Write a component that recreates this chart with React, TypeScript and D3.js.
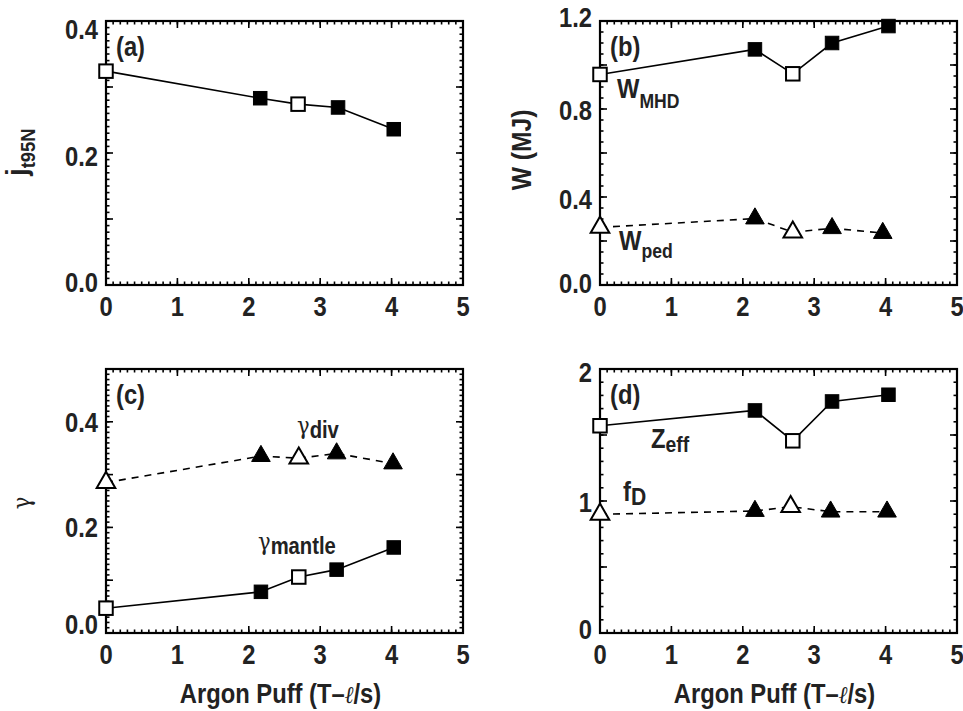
import React from "react";
import * as d3 from "d3";

// ---------- data ----------
const xTickLabels = [0, 1, 2, 3, 4, 5];
const isOpen = [true, false, true, false, false];

const jt95NX = [0, 2.16, 2.69, 3.25, 4.03];
const jt95N = [0.324, 0.283, 0.274, 0.269, 0.236];

const wmhdX = [0, 2.17, 2.7, 3.25, 4.04];
const wmhd = [0.957, 1.071, 0.96, 1.1, 1.177];
const wpedX = [0, 2.17, 2.7, 3.25, 3.96];
const wped = [0.262, 0.302, 0.24, 0.258, 0.236];

const gdivX = [0, 2.17, 2.7, 3.23, 4.02];
const gdiv = [0.285, 0.335, 0.331, 0.34, 0.321];
const gmantleX = [0, 2.17, 2.7, 3.23, 4.03];
const gmantle = [0.047, 0.078, 0.106, 0.12, 0.162];

const zeffX = [0, 2.17, 2.7, 3.25, 4.04];
const zeff = [1.57, 1.686, 1.456, 1.754, 1.805];
const fdX = [0, 2.17, 2.67, 3.23, 4.02];
const fd = [0.899, 0.924, 0.957, 0.919, 0.919];

const yLabelsA = [0, 0.2, 0.4];
const yLabelsB = [0, 0.4, 0.8, 1.2];
const yLabelsC = [0, 0.2, 0.4];
const yLabelsD = [0, 1, 2];

const FONT = "'Liberation Sans', Arial, Helvetica, sans-serif";
const GREEK = "'DejaVu Serif', serif";
const SX = 0.88;

type CTextProps = {
  x: number;
  y: number;
  size: number;
  anchor?: "start" | "middle" | "end";
  rotate?: number;
  family?: string;
  weight?: string;
  children: React.ReactNode;
};

function CText({ x, y, size, anchor = "start", rotate = 0, family = FONT, weight = "bold", children }: CTextProps) {
  return (
    <text
      transform={`translate(${x},${y}) rotate(${rotate}) scale(${SX},1)`}
      textAnchor={anchor}
      fontFamily={family}
      fontWeight={weight}
      fontSize={size}
      fill="#222"
    >
      {children}
    </text>
  );
}

type Series = { xs: number[]; ys: number[]; marker: "square" | "triangle"; dashed: boolean };

type PanelProps = {
  left: number;
  top: number;
  width: number;
  height: number;
  yMax: number;
  yMajor: number;
  yMinor: number;
  yLabels: number[];
  yNudge: number[];
  yFmt: (v: number) => string;
  series: Series[];
  tag: string;
  showXTitle: boolean;
  children?: React.ReactNode;
};

function ticksBetween(max: number, step: number): number[] {
  const n = Math.round(max / step);
  return d3.range(n + 1).map((i) => i * step);
}

function Panel(p: PanelProps) {
  const x = d3.scaleLinear().domain([0, 5]).range([p.left, p.left + p.width]);
  const y = d3.scaleLinear().domain([0, p.yMax]).range([p.top + p.height, p.top]);
  const bottom = p.top + p.height;
  const right = p.left + p.width;
  const MAJ = 7;
  const MIN = 3.5;

  const xMajor = ticksBetween(5, 1);
  const xMinor = ticksBetween(5, 0.1);
  const yMajorT = ticksBetween(p.yMax, p.yMajor);
  const yMinorT = ticksBetween(p.yMax, p.yMinor);

  const tickEls: React.ReactNode[] = [];
  xMinor.forEach((v, i) => {
    const px = x(v);
    tickEls.push(<line key={"xm" + i} x1={px} x2={px} y1={bottom} y2={bottom - MIN} />);
    tickEls.push(<line key={"xmt" + i} x1={px} x2={px} y1={p.top} y2={p.top + MIN} />);
  });
  xMajor.forEach((v, i) => {
    const px = x(v);
    tickEls.push(<line key={"xM" + i} x1={px} x2={px} y1={bottom} y2={bottom - MAJ} />);
    tickEls.push(<line key={"xMt" + i} x1={px} x2={px} y1={p.top} y2={p.top + MAJ} />);
  });
  yMinorT.forEach((v, i) => {
    const py = y(v);
    tickEls.push(<line key={"ym" + i} x1={p.left} x2={p.left + MIN} y1={py} y2={py} />);
    tickEls.push(<line key={"ymr" + i} x1={right} x2={right - MIN} y1={py} y2={py} />);
  });
  yMajorT.forEach((v, i) => {
    const py = y(v);
    tickEls.push(<line key={"yM" + i} x1={p.left} x2={p.left + MAJ} y1={py} y2={py} />);
    tickEls.push(<line key={"yMr" + i} x1={right} x2={right - MAJ} y1={py} y2={py} />);
  });

  const line = d3
    .line<[number, number]>()
    .x((d) => x(d[0]))
    .y((d) => y(d[1]));

  const sq = 13.5;
  const tri = d3.symbol().type(d3.symbolTriangle).size(150)();

  return (
    <g>
      <g stroke="#000" strokeWidth={1.6}>{tickEls}</g>
      <rect x={p.left} y={p.top} width={p.width} height={p.height} fill="none" stroke="#000" strokeWidth={2.2} />
      {xTickLabels.map((v) => (
        <CText key={"xl" + v} x={x(v)} y={bottom + 31} anchor="middle" size={27}>
          {v}
        </CText>
      ))}
      {p.yLabels.map((v, i) => (
        <CText key={"yl" + v} x={p.left - 8} y={y(v) + 10 + (p.yNudge[i] || 0)} anchor="end" size={27}>
          {p.yFmt(v)}
        </CText>
      ))}
      {p.showXTitle && (
        <CText x={p.left + p.width / 2 - 4} y={bottom + 70} anchor="middle" size={27}>
          Argon Puff (T–<tspan fontFamily={GREEK} fontStyle="italic" fontWeight="normal" fontSize={24}>ℓ</tspan>/s)
        </CText>
      )}
      <CText x={p.left + 10} y={p.top + 35} size={27}>
        {p.tag}
      </CText>
      {p.series.map((s, si) => {
        const pts: [number, number][] = s.xs.map((xv, i) => [xv, s.ys[i]]);
        return (
          <g key={"s" + si}>
            <path d={line(pts) || ""} fill="none" stroke="#000" strokeWidth={1.6} strokeDasharray={s.dashed ? "7,6" : undefined} />
            {pts.map((d, i) => {
              const open = isOpen[i];
              if (s.marker === "square") {
                return (
                  <rect
                    key={i}
                    x={x(d[0]) - sq / 2}
                    y={y(d[1]) - sq / 2}
                    width={sq}
                    height={sq}
                    fill={open ? "#fff" : "#000"}
                    stroke="#000"
                    strokeWidth={open ? 2 : 1}
                  />
                );
              }
              return (
                <path
                  key={i}
                  d={tri || ""}
                  transform={`translate(${x(d[0])},${y(d[1])})`}
                  fill={open ? "#fff" : "#000"}
                  stroke="#000"
                  strokeWidth={open ? 2 : 1}
                />
              );
            })}
          </g>
        );
      })}
      {p.children}
    </g>
  );
}

export default function App() {
  const W = 357;
  const H = 264;
  const f1 = (v: number) => d3.format(".1f")(v);
  const f0 = (v: number) => d3.format("d")(v);
  return (
    <svg width={963} height={711} style={{ position: "absolute", left: 0, top: 0, background: "#fff" }}>
      <rect x={0} y={0} width={963} height={711} fill="#fff" />
      <Panel
        left={106}
        top={21}
        width={W}
        height={H}
        yMax={0.4}
        yMajor={0.1}
        yMinor={0.01}
        yLabels={yLabelsA}
        yNudge={[-3, 3, 8]}
        yFmt={f1}
        tag="(a)"
        showXTitle={false}
        series={[{ xs: jt95NX, ys: jt95N, marker: "square", dashed: false }]}
      />
      <Panel
        left={600}
        top={21}
        width={W}
        height={H}
        yMax={1.2}
        yMajor={0.2}
        yMinor={0.05}
        yLabels={yLabelsB}
        yNudge={[-2, 2, 1, -4]}
        yFmt={f1}
        tag="(b)"
        showXTitle={false}
        series={[
          { xs: wmhdX, ys: wmhd, marker: "square", dashed: false },
          { xs: wpedX, ys: wped, marker: "triangle", dashed: true },
        ]}
      >
        <CText x={617} y={98} size={27}>
          W<tspan fontSize={20} dy={10}>MHD</tspan>
        </CText>
        <CText x={619} y={250} size={27}>
          W<tspan fontSize={20} dy={8}>ped</tspan>
        </CText>
      </Panel>
      <Panel
        left={106}
        top={369}
        width={W}
        height={H}
        yMax={0.5}
        yMajor={0.1}
        yMinor={0.01}
        yLabels={yLabelsC}
        yNudge={[-9, 0, 0]}
        yFmt={f1}
        tag="(c)"
        showXTitle={true}
        series={[
          { xs: gdivX, ys: gdiv, marker: "triangle", dashed: true },
          { xs: gmantleX, ys: gmantle, marker: "square", dashed: false },
        ]}
      >
        <CText x={297} y={434} size={24} weight="normal" family={GREEK}>
          γ<tspan fontFamily={FONT} fontWeight="bold" fontSize={23} dy={4}>div</tspan>
        </CText>
        <CText x={258} y={550} size={24} weight="normal" family={GREEK}>
          γ<tspan fontFamily={FONT} fontWeight="bold" fontSize={23} dy={4}>mantle</tspan>
        </CText>
      </Panel>
      <Panel
        left={600}
        top={369}
        width={W}
        height={H}
        yMax={2}
        yMajor={0.5}
        yMinor={0.1}
        yLabels={yLabelsD}
        yNudge={[-4, 1, 3]}
        yFmt={f0}
        tag="(d)"
        showXTitle={true}
        series={[
          { xs: zeffX, ys: zeff, marker: "square", dashed: false },
          { xs: fdX, ys: fd, marker: "triangle", dashed: true },
        ]}
      >
        <CText x={651} y={448} size={27}>
          Z<tspan fontSize={22} dy={4}>eff</tspan>
        </CText>
        <CText x={623} y={501} size={27}>
          f<tspan fontSize={24} dy={4}>D</tspan>
        </CText>
      </Panel>
      <CText x={27} y={152} rotate={-90} anchor="middle" size={30}>
        j<tspan fontSize={21} dy={8}>t95N</tspan>
      </CText>
      <CText x={531} y={150} rotate={-90} anchor="middle" size={28}>
        W (MJ)
      </CText>
      <CText x={30} y={503} rotate={-90} anchor="middle" size={24} weight="normal" family={GREEK}>
        γ
      </CText>
    </svg>
  );
}
